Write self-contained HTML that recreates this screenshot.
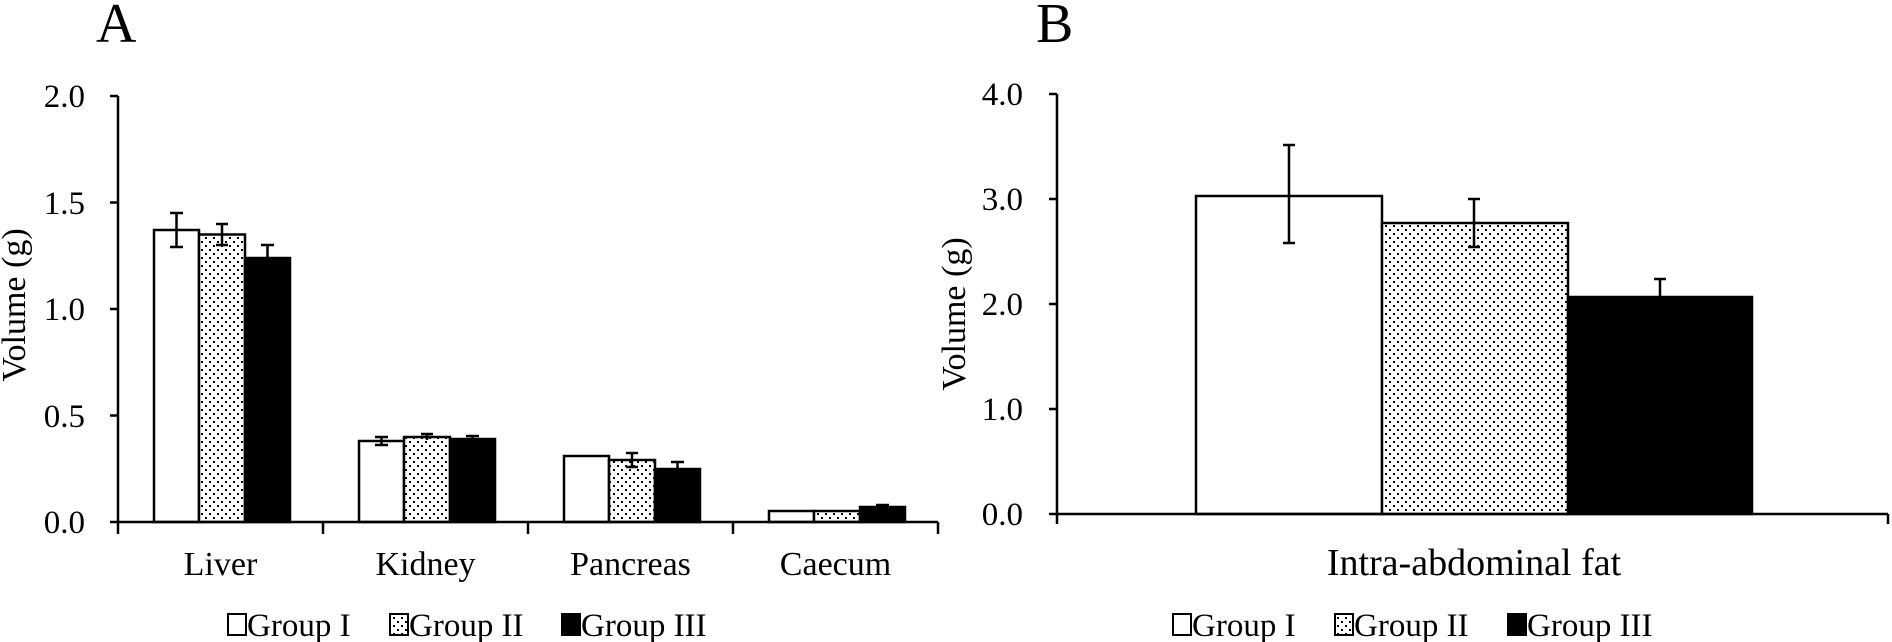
<!DOCTYPE html>
<html><head><meta charset="utf-8"><style>html,body{margin:0;padding:0;background:#fff}svg{display:block}text{font-family:"Liberation Serif",serif;fill:#000}</style></head>
<body>
<svg width="1892" height="642" viewBox="0 0 1892 642" xmlns="http://www.w3.org/2000/svg">
<defs>
<pattern id="dots" width="8" height="8" patternUnits="userSpaceOnUse">
<rect width="8" height="8" fill="#fff"/>
<rect x="1" y="1" width="2" height="2" fill="#000"/>
<rect x="5" y="5" width="2" height="2" fill="#000"/>
</pattern>
</defs>
<text x="96" y="42" font-size="56">A</text>
<text x="1036" y="42" font-size="56">B</text>

<!-- Panel A -->
<g stroke="#000" stroke-width="2.5" fill="none">
<line x1="118" y1="96" x2="118" y2="522"/>
<line x1="110" y1="96" x2="118" y2="96"/>
<line x1="110" y1="202.5" x2="118" y2="202.5"/>
<line x1="110" y1="309" x2="118" y2="309"/>
<line x1="110" y1="415.5" x2="118" y2="415.5"/>
<line x1="110" y1="522" x2="118" y2="522"/>
</g>
<g font-size="33" text-anchor="end">
<text x="85" y="107">2.0</text><text x="85" y="214">1.5</text><text x="85" y="320">1.0</text><text x="85" y="427">0.5</text><text x="85" y="533">0.0</text>
</g>
<text transform="translate(25,305) rotate(-90)" font-size="34" text-anchor="middle">Volume (g)</text>

<g stroke="#000" stroke-width="2.5">
<rect x="154" y="230" width="45" height="292" fill="#fff"/>
<rect x="199" y="234.5" width="46" height="287.5" fill="url(#dots)"/>
<rect x="245" y="258" width="45" height="264" fill="#000"/>
<rect x="359" y="441" width="45" height="81" fill="#fff"/>
<rect x="404" y="437" width="46" height="85" fill="url(#dots)"/>
<rect x="450" y="439" width="45" height="83" fill="#000"/>
<rect x="564" y="456" width="45" height="66" fill="#fff"/>
<rect x="609" y="460" width="46" height="62" fill="url(#dots)"/>
<rect x="655" y="469" width="45" height="53" fill="#000"/>
<rect x="769" y="511" width="45" height="11" fill="#fff"/>
<rect x="814" y="511" width="46" height="11" fill="url(#dots)"/>
<rect x="860" y="507" width="45" height="15" fill="#000"/>
</g>
<g stroke="#000" stroke-width="2.5">
<line x1="176.5" y1="213" x2="176.5" y2="247"/><line x1="170" y1="213" x2="183" y2="213"/><line x1="170" y1="247" x2="183" y2="247"/>
<line x1="222" y1="224" x2="222" y2="245"/><line x1="216" y1="224" x2="228" y2="224"/><line x1="216" y1="245" x2="228" y2="245"/>
<line x1="267.5" y1="245" x2="267.5" y2="271"/><line x1="261" y1="245" x2="274" y2="245"/>
<line x1="381.5" y1="437" x2="381.5" y2="445"/><line x1="375" y1="437" x2="388" y2="437"/><line x1="375" y1="445" x2="388" y2="445"/>
<line x1="427" y1="434" x2="427" y2="440"/><line x1="421" y1="434" x2="433" y2="434"/>
<line x1="472.5" y1="436" x2="472.5" y2="441"/><line x1="466" y1="436" x2="479" y2="436"/>
<line x1="632" y1="453" x2="632" y2="467"/><line x1="626" y1="453" x2="638" y2="453"/><line x1="626" y1="467" x2="638" y2="467"/>
<line x1="677.5" y1="462" x2="677.5" y2="469"/><line x1="671" y1="462" x2="684" y2="462"/>
<line x1="882.5" y1="505" x2="882.5" y2="507"/><line x1="876" y1="505" x2="889" y2="505"/>
</g>
<g stroke="#000" stroke-width="2.5">
<line x1="118" y1="522" x2="938" y2="522"/>
<line x1="118" y1="522" x2="118" y2="534"/>
<line x1="323" y1="522" x2="323" y2="534"/>
<line x1="528" y1="522" x2="528" y2="534"/>
<line x1="733" y1="522" x2="733" y2="534"/>
<line x1="938" y1="522" x2="938" y2="534"/>
</g>
<g font-size="34" text-anchor="middle">
<text x="220.5" y="575">Liver</text><text x="425.5" y="575">Kidney</text><text x="630.5" y="575">Pancreas</text><text x="835.5" y="575">Caecum</text>
</g>
<g stroke="#000" stroke-width="2">
<rect x="228" y="614" width="18" height="21" fill="#fff"/>
<rect x="390" y="614" width="18" height="21" fill="url(#dots)"/>
<rect x="562" y="614" width="18" height="21" fill="#000"/>
</g>
<g font-size="33">
<text x="247" y="636">Group I</text><text x="409" y="636">Group II</text><text x="581" y="636">Group III</text>
</g>

<!-- Panel B -->
<g stroke="#000" stroke-width="2.5">
<line x1="1057" y1="94" x2="1057" y2="524"/>
<line x1="1049" y1="94" x2="1057" y2="94"/>
<line x1="1049" y1="199" x2="1057" y2="199"/>
<line x1="1049" y1="304" x2="1057" y2="304"/>
<line x1="1049" y1="409" x2="1057" y2="409"/>
<line x1="1049" y1="514" x2="1057" y2="514"/>
</g>
<g font-size="33" text-anchor="end">
<text x="1023" y="105">4.0</text><text x="1023" y="210">3.0</text><text x="1023" y="315">2.0</text><text x="1023" y="420">1.0</text><text x="1023" y="525">0.0</text>
</g>
<text transform="translate(965,314) rotate(-90)" font-size="34" text-anchor="middle">Volume (g)</text>
<g stroke="#000" stroke-width="2.5">
<rect x="1196" y="196" width="186" height="318" fill="#fff"/>
<rect x="1382" y="223" width="186" height="291" fill="url(#dots)"/>
<rect x="1568" y="297" width="184" height="217" fill="#000"/>
<line x1="1289" y1="145" x2="1289" y2="243"/><line x1="1283" y1="145" x2="1295" y2="145"/><line x1="1283" y1="243" x2="1295" y2="243"/>
<line x1="1474" y1="199" x2="1474" y2="247"/><line x1="1468" y1="199" x2="1480" y2="199"/><line x1="1468" y1="247" x2="1480" y2="247"/>
<line x1="1660" y1="279" x2="1660" y2="297"/><line x1="1654" y1="279" x2="1666" y2="279"/>
<line x1="1057" y1="514" x2="1888" y2="514"/>
<line x1="1888" y1="514" x2="1888" y2="524"/>
</g>
<text x="1474" y="575" font-size="38" text-anchor="middle">Intra-abdominal fat</text>
<g stroke="#000" stroke-width="2">
<rect x="1173" y="614" width="18" height="21" fill="#fff"/>
<rect x="1335" y="614" width="18" height="21" fill="url(#dots)"/>
<rect x="1508" y="614" width="18" height="21" fill="#000"/>
</g>
<g font-size="33">
<text x="1192" y="636">Group I</text><text x="1354" y="636">Group II</text><text x="1527" y="636">Group III</text>
</g>
</svg>
</body></html>
